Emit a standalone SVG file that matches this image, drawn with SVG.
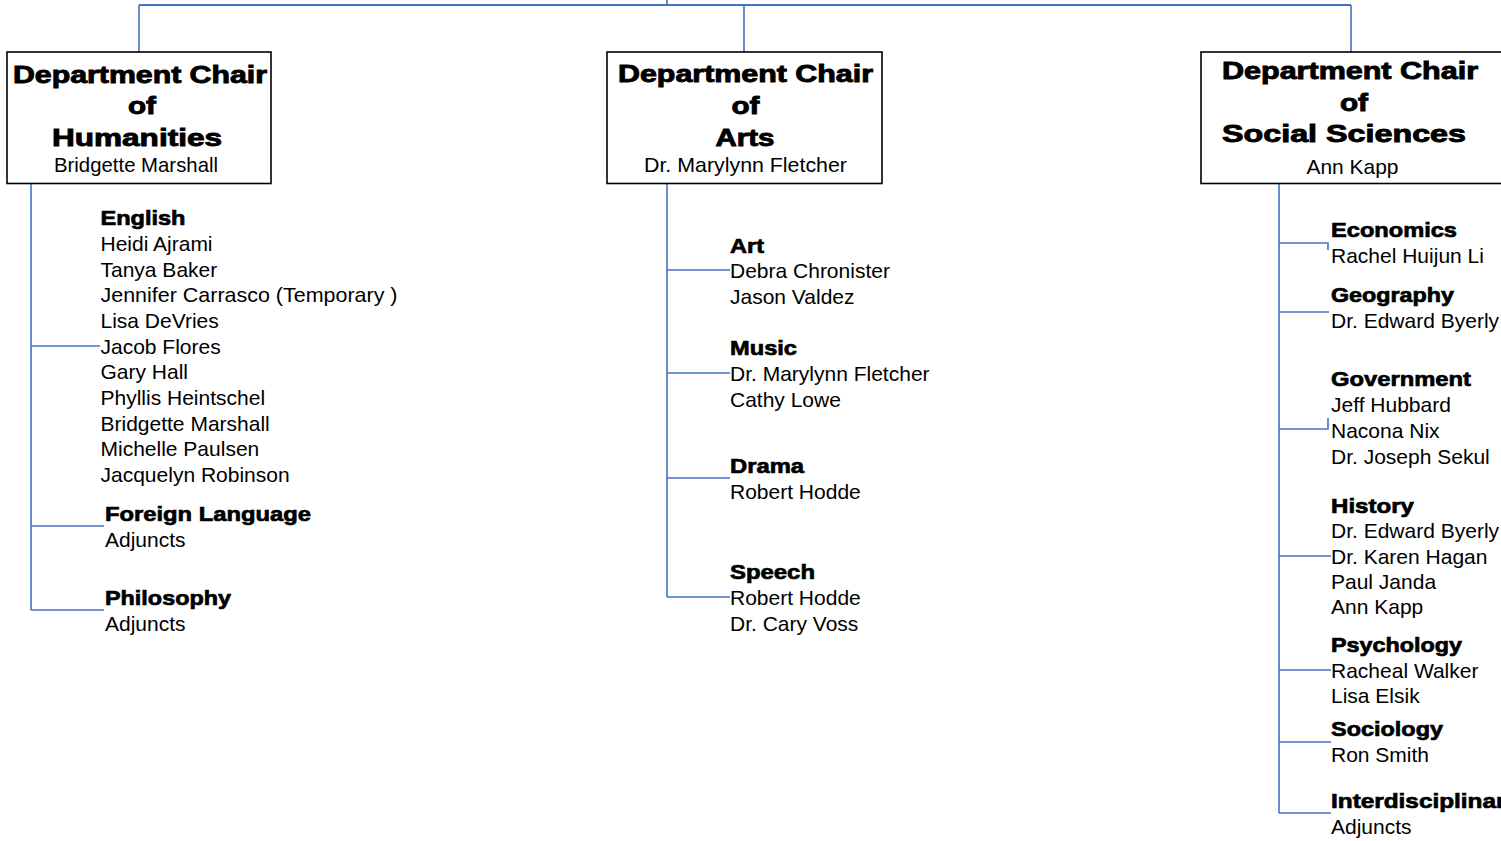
<svg xmlns="http://www.w3.org/2000/svg" width="1501" height="841" viewBox="0 0 1501 841">
<style>
.box{fill:#fff;stroke:#000;stroke-width:1.6}
.ln{fill:none;stroke:#4472C4;stroke-width:1.6}
.h{font-family:"Liberation Sans",Arial,sans-serif;font-weight:bold;font-size:24px;fill:#000;stroke:#000;stroke-width:0.9;text-anchor:start}
.s{font-family:"Liberation Sans",Arial,sans-serif;font-weight:bold;font-size:21px;fill:#000;stroke:#000;stroke-width:0.7}
.t{font-family:"Liberation Sans",Arial,sans-serif;font-size:21px;fill:#000}
</style>
<rect width="1501" height="841" fill="#fff"/>
<g id="connectors">
<path class="ln" d="M667,0 V5" />
<path class="ln" style="stroke-width:2" d="M139,5 H1351" />
<path class="ln" d="M139,5 V52 M744,5 V52 M1351,5 V52" />
<path class="ln" d="M31,184 V610 M31,346 H100 M31,526 H104 M31,610 H104" />
<path class="ln" d="M667,184 V597 M667,270 H730 M667,373 H730 M667,478 H730 M667,597 H730" />
<path class="ln" d="M1279,184 V813 M1279,243 H1328 V250 M1279,312 H1329 M1279,429 H1328 V418 M1279,556 H1331 M1279,670 H1331 M1279,742 H1331 M1279,813 H1331" />
</g>
<g id="humanities">
<rect class="box" x="7" y="52" width="264" height="131.5"/>
<text class="h" x="13" y="82.5" textLength="254" lengthAdjust="spacingAndGlyphs">Department Chair</text>
<text class="h" x="128" y="113.5" textLength="28" lengthAdjust="spacingAndGlyphs">of</text>
<text class="h" x="52" y="145.5" textLength="170" lengthAdjust="spacingAndGlyphs">Humanities</text>
<text class="t" x="54" y="172" textLength="164" lengthAdjust="spacingAndGlyphs">Bridgette Marshall</text>
</g>
<g id="arts">
<rect class="box" x="607" y="52" width="275" height="131.5"/>
<text class="h" x="618" y="82" textLength="255" lengthAdjust="spacingAndGlyphs">Department Chair</text>
<text class="h" x="731.5" y="113.5" textLength="28" lengthAdjust="spacingAndGlyphs">of</text>
<text class="h" x="715.5" y="145.5" textLength="59" lengthAdjust="spacingAndGlyphs">Arts</text>
<text class="t" x="644" y="172" textLength="203" lengthAdjust="spacingAndGlyphs">Dr. Marylynn Fletcher</text>
</g>
<g id="social">
<rect class="box" x="1201" y="52" width="310" height="131.5"/>
<text class="h" x="1222" y="79" textLength="256" lengthAdjust="spacingAndGlyphs">Department Chair</text>
<text class="h" x="1340" y="111" textLength="28" lengthAdjust="spacingAndGlyphs">of</text>
<text class="h" x="1222" y="142" textLength="244" lengthAdjust="spacingAndGlyphs">Social Sciences</text>
<text class="t" x="1306.5" y="173.5" textLength="92" lengthAdjust="spacingAndGlyphs">Ann Kapp</text>
</g>
<g id="english">
<text class="s" x="100.5" y="225" textLength="85" lengthAdjust="spacingAndGlyphs">English</text>
<text class="t" x="100.5" y="250.7">Heidi Ajrami</text>
<text class="t" x="100.5" y="276.5">Tanya Baker</text>
<text class="t" x="100.5" y="302.2" textLength="297" lengthAdjust="spacingAndGlyphs">Jennifer Carrasco (Temporary )</text>
<text class="t" x="100.5" y="327.8">Lisa DeVries</text>
<text class="t" x="100.5" y="353.5">Jacob Flores</text>
<text class="t" x="100.5" y="379.2">Gary Hall</text>
<text class="t" x="100.5" y="404.8">Phyllis Heintschel</text>
<text class="t" x="100.5" y="430.5">Bridgette Marshall</text>
<text class="t" x="100.5" y="456.1">Michelle Paulsen</text>
<text class="t" x="100.5" y="481.8">Jacquelyn Robinson</text>
</g>
<g id="foreign-language">
<text class="s" x="105" y="521" textLength="206" lengthAdjust="spacingAndGlyphs">Foreign Language</text>
<text class="t" x="105" y="547">Adjuncts</text>
</g>
<g id="philosophy">
<text class="s" x="105" y="605" textLength="126" lengthAdjust="spacingAndGlyphs">Philosophy</text>
<text class="t" x="105" y="631">Adjuncts</text>
</g>
<g id="art">
<text class="s" x="730" y="252.7" textLength="34" lengthAdjust="spacingAndGlyphs">Art</text>
<text class="t" x="730" y="278.3">Debra Chronister</text>
<text class="t" x="730" y="304">Jason Valdez</text>
</g>
<g id="music">
<text class="s" x="730" y="355" textLength="67" lengthAdjust="spacingAndGlyphs">Music</text>
<text class="t" x="730" y="381">Dr. Marylynn Fletcher</text>
<text class="t" x="730" y="406.7">Cathy Lowe</text>
</g>
<g id="drama">
<text class="s" x="730" y="473.3" textLength="74" lengthAdjust="spacingAndGlyphs">Drama</text>
<text class="t" x="730" y="499.3">Robert Hodde</text>
</g>
<g id="speech">
<text class="s" x="730" y="579" textLength="85" lengthAdjust="spacingAndGlyphs">Speech</text>
<text class="t" x="730" y="605">Robert Hodde</text>
<text class="t" x="730" y="630.5">Dr. Cary Voss</text>
</g>
<g id="economics">
<text class="s" x="1331" y="237.3" textLength="126" lengthAdjust="spacingAndGlyphs">Economics</text>
<text class="t" x="1331" y="263.3">Rachel Huijun Li</text>
</g>
<g id="geography">
<text class="s" x="1331" y="301.7" textLength="123" lengthAdjust="spacingAndGlyphs">Geography</text>
<text class="t" x="1331" y="328.3">Dr. Edward Byerly</text>
</g>
<g id="government">
<text class="s" x="1331" y="385.7" textLength="140" lengthAdjust="spacingAndGlyphs">Government</text>
<text class="t" x="1331" y="412">Jeff Hubbard</text>
<text class="t" x="1331" y="438">Nacona Nix</text>
<text class="t" x="1331" y="463.5">Dr. Joseph Sekul</text>
</g>
<g id="history">
<text class="s" x="1331" y="513.3" textLength="83" lengthAdjust="spacingAndGlyphs">History</text>
<text class="t" x="1331" y="538.3">Dr. Edward Byerly</text>
<text class="t" x="1331" y="563.5">Dr. Karen Hagan</text>
<text class="t" x="1331" y="588.5">Paul Janda</text>
<text class="t" x="1331" y="613.5">Ann Kapp</text>
</g>
<g id="psychology">
<text class="s" x="1331" y="651.7" textLength="131" lengthAdjust="spacingAndGlyphs">Psychology</text>
<text class="t" x="1331" y="677.7">Racheal Walker</text>
<text class="t" x="1331" y="702.7">Lisa Elsik</text>
</g>
<g id="sociology">
<text class="s" x="1331" y="736" textLength="112" lengthAdjust="spacingAndGlyphs">Sociology</text>
<text class="t" x="1331" y="761.7">Ron Smith</text>
</g>
<g id="interdisciplinary">
<text class="s" x="1331" y="808.3" textLength="188" lengthAdjust="spacingAndGlyphs">Interdisciplinary</text>
<text class="t" x="1331" y="834">Adjuncts</text>
</g>
</svg>
